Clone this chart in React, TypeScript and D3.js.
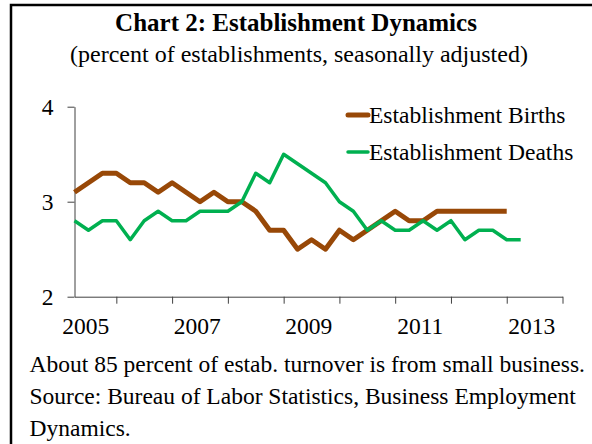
import React, { useEffect, useRef } from 'react'
import * as d3 from 'd3'

// quarterly, 2005Q1 onward
const quarters = [
	'2005Q1', '2005Q2', '2005Q3', '2005Q4', '2006Q1', '2006Q2', '2006Q3', '2006Q4',
	'2007Q1', '2007Q2', '2007Q3', '2007Q4', '2008Q1', '2008Q2', '2008Q3', '2008Q4',
	'2009Q1', '2009Q2', '2009Q3', '2009Q4', '2010Q1', '2010Q2', '2010Q3', '2010Q4',
	'2011Q1', '2011Q2', '2011Q3', '2011Q4', '2012Q1', '2012Q2', '2012Q3', '2012Q4',
	'2013Q1', '2013Q2', '2013Q3', '2013Q4',
]

const births = [
	3.1, 3.2, 3.3, 3.3, 3.2, 3.2, 3.1, 3.2, 3.1, 3.0, 3.1, 3.0, 3.0, 2.9, 2.7, 2.7,
	2.5, 2.6, 2.5, 2.7, 2.6, 2.7, 2.8, 2.9, 2.8, 2.8, 2.9, 2.9, 2.9, 2.9, 2.9, 2.9,
]

const deaths = [
	2.8, 2.7, 2.8, 2.8, 2.6, 2.8, 2.9, 2.8, 2.8, 2.9, 2.9, 2.9, 3.0, 3.3, 3.2, 3.5,
	3.4, 3.3, 3.2, 3.0, 2.9, 2.7, 2.8, 2.7, 2.7, 2.8, 2.7, 2.8, 2.6, 2.7, 2.7, 2.6,
	2.6,
]

const yTicks = [2, 3, 4]
const yearLabels = ['2005', '2007', '2009', '2011', '2013']

const series = [
	{ name: 'Establishment Births', values: births, color: '#984807', width: 5 },
	{ name: 'Establishment Deaths', values: deaths, color: '#00B050', width: 3.5 },
]

const notes = [
	'About 85 percent of estab. turnover is from small business.',
	'Source: Bureau of Labor Statistics, Business Employment',
	'Dynamics.',
]

const font = '"Liberation Serif", "Times New Roman", serif'

export default function App() {
	const ref = useRef<SVGSVGElement>(null)

	useEffect(() => {
		const svg = d3.select(ref.current)
		svg.selectAll('*').remove()

		// frame (cut off at right and bottom)
		svg.append('path')
			.attr('d', 'M11,450 L11,5 L600,5')
			.attr('fill', 'none')
			.attr('stroke', '#000')
			.attr('stroke-width', 2.5)

		svg.append('text')
			.attr('x', 296)
			.attr('y', 31)
			.attr('text-anchor', 'middle')
			.attr('font-family', font)
			.attr('font-weight', 'bold')
			.attr('font-size', 25)
			.text('Chart 2: Establishment Dynamics')

		svg.append('text')
			.attr('x', 299)
			.attr('y', 62)
			.attr('text-anchor', 'middle')
			.attr('font-family', font)
			.attr('font-size', 24)
			.text('(percent of establishments, seasonally adjusted)')

		const x = d3.scaleLinear().domain([0, quarters.length - 1]).range([74.5, 562.5])
		const y = d3.scaleLinear().domain([2, 4]).range([296.7, 106.7])

		// x axis: marks at each year end, labels every other year
		const xAxis = svg.append('g')
			.attr('transform', 'translate(0,296.7)')
			.call(
				d3.axisBottom(x)
					.tickValues(d3.range(3, quarters.length, 4))
					.tickSize(7)
					.tickSizeOuter(0)
					.tickFormat(() => '')
			)
		xAxis.select('.domain').attr('stroke', '#404040')
		xAxis.selectAll('line').attr('stroke', '#404040')

		svg.append('g')
			.selectAll('text')
			.data(yearLabels)
			.enter()
			.append('text')
			.attr('x', (d) => x(quarters.indexOf(d + 'Q1') + 0.8))
			.attr('y', 334)
			.attr('text-anchor', 'middle')
			.attr('font-family', font)
			.attr('font-size', 23.5)
			.attr('fill', '#000')
			.text((d) => d)

		const yAxis = svg.append('g')
			.attr('transform', 'translate(74.5,0)')
			.call(
				d3.axisLeft(y)
					.tickValues(yTicks)
					.tickSize(7)
					.tickSizeOuter(0)
					.tickPadding(14)
					.tickFormat(d3.format('d'))
			)
		yAxis.select('.domain').attr('stroke', '#404040')
		yAxis.selectAll('line').attr('stroke', '#404040')
		yAxis.selectAll('text')
			.attr('font-family', font)
			.attr('font-size', 23.5)
			.attr('fill', '#000')

		const line = d3.line<number>()
			.x((d, i) => x(i))
			.y((d) => y(d))

		svg.append('g')
			.selectAll('path')
			.data(series)
			.enter()
			.append('path')
			.attr('d', (s) => line(s.values))
			.attr('fill', 'none')
			.attr('stroke', (s) => s.color)
			.attr('stroke-width', (s) => s.width)
			.attr('stroke-linejoin', 'round')

		const legend = svg.append('g')
			.selectAll('g')
			.data(series)
			.enter()
			.append('g')
			.attr('transform', (s, i) => `translate(348,${115 + i * 37})`)
		legend.append('line')
			.attr('x1', 0)
			.attr('x2', 20)
			.attr('stroke', (s) => s.color)
			.attr('stroke-width', (s) => s.width)
			.attr('stroke-linecap', 'round')
		legend.append('text')
			.attr('x', 21)
			.attr('y', 8)
			.attr('font-family', font)
			.attr('font-size', 23.5)
			.text((s) => s.name)

		svg.append('g')
			.selectAll('text')
			.data(notes)
			.enter()
			.append('text')
			.attr('x', 29.5)
			.attr('y', (d, i) => 372 + i * 32)
			.attr('font-family', font)
			.attr('font-size', 23.5)
			.text((d) => d)
	}, [])

	return (
		<svg
			ref={ref}
			width={592}
			height={444}
			style={{ position: 'absolute', left: 0, top: 0, background: '#fff' }}
		/>
	)
}
